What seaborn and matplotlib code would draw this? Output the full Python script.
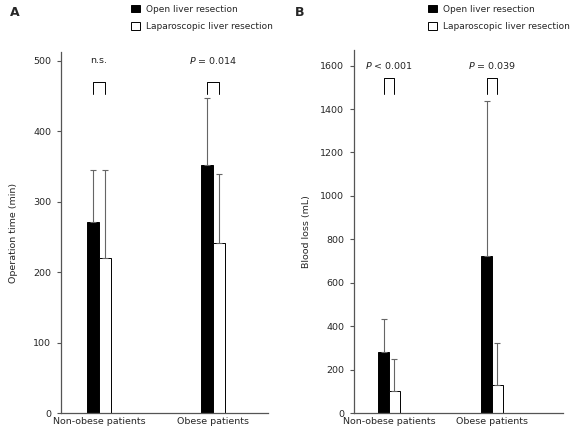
import pandas as pd
import matplotlib.pyplot as plt
import seaborn as sns
from matplotlib.patches import Patch

# Data
groups = ['Non-obese patients', 'Obese patients']
methods = ['Open liver resection', 'Laparoscopic liver resection']

optime_open = [271, 352]
optime_open_sd = [74, 95]
optime_lap = [220, 241]
optime_lap_sd = [125, 98]

blood_open = [281, 723]
blood_open_sd = [152, 715]
blood_lap = [100, 129]
blood_lap_sd = [149, 194]

p_optime = ['n.s.', r'$\it{P}$ = 0.014']
p_blood = [r'$\it{P}$ < 0.001', r'$\it{P}$ = 0.039']

sns.set_style('ticks')
plt.rcParams['font.family'] = ['DejaVu Sans']
plt.rcParams['mathtext.fontset'] = 'dejavusans'
FS = 6.8
spine_col = '#555555'


def make_df(open_vals, lap_vals):
    rows = []
    for g, v in zip(groups, open_vals):
        rows.append({'group': g, 'method': methods[0], 'value': v})
    for g, v in zip(groups, lap_vals):
        rows.append({'group': g, 'method': methods[1], 'value': v})
    return pd.DataFrame(rows)


def draw_panel(ax, open_vals, open_sd, lap_vals, lap_sd, pvals, ylim, yticks,
               xlim, bracket, ptext_y, ylabel, labelpad):
    df = make_df(open_vals, lap_vals)
    sns.barplot(data=df, x='group', y='value', hue='method', hue_order=methods,
                palette=['black', 'white'], edgecolor='black', linewidth=0.7,
                width=0.21, errorbar=None, legend=False, ax=ax)
    # upward-only error bars
    for cont, sds in zip(ax.containers, [open_sd, lap_sd]):
        xs = [b.get_x() + b.get_width() / 2 for b in cont]
        ys = [b.get_height() for b in cont]
        ax.errorbar(xs, ys, yerr=[[0] * len(sds), sds], fmt='none',
                    ecolor='#666666', elinewidth=0.8, capsize=2,
                    capthick=0.8, zorder=1)
    # brackets + p-values
    for i, txt in enumerate(pvals):
        x0 = ax.containers[0][i].get_x() + ax.containers[0][i].get_width() / 2
        x1 = ax.containers[1][i].get_x() + ax.containers[1][i].get_width() / 2
        lo, hi = bracket
        ax.plot([x0, x0, x1, x1], [lo, hi, hi, lo], color='black', lw=0.7)
        ax.text(i, ptext_y, txt, ha='center', va='center', fontsize=FS,
                color='#222222')
    ax.set_ylim(*ylim)
    ax.set_xlim(*xlim)
    ax.set_yticks(yticks)
    ax.set_xlabel('')
    ax.set_ylabel(ylabel, fontsize=FS, labelpad=labelpad)
    sns.despine(ax=ax)
    for s in ['left', 'bottom']:
        ax.spines[s].set_color(spine_col)
        ax.spines[s].set_linewidth(0.9)
    ax.tick_params(axis='y', labelsize=FS, length=3, width=0.8,
                   color=spine_col, pad=4)
    ax.tick_params(axis='x', labelsize=FS, length=0, pad=3)


fig = plt.figure(figsize=(5.78, 4.38), dpi=100)
axA = fig.add_axes([0.1055, 0.057, 0.358, 0.824])
axB = fig.add_axes([0.6125, 0.057, 0.3616, 0.829])

draw_panel(axA, optime_open, optime_open_sd, optime_lap, optime_lap_sd,
           p_optime, (0, 512), range(0, 501, 100), (-0.334, 1.483),
           (453, 470), 500, 'Operation time (min)', 11)
draw_panel(axB, blood_open, blood_open_sd, blood_lap, blood_lap_sd,
           p_blood, (0, 1672), range(0, 1601, 200), (-0.339, 1.69),
           (1470, 1544), 1600, 'Blood loss (mL)', 7)

handles = [Patch(facecolor='black', edgecolor='black', linewidth=0.7),
           Patch(facecolor='white', edgecolor='black', linewidth=0.7)]
for xa in [0.213, 0.727]:
    fig.legend(handles, methods, loc='upper left', bbox_to_anchor=(xa, 1.008),
               frameon=False, fontsize=6.5, handlelength=0.95, handleheight=0.95,
               handletextpad=0.7, labelspacing=0.95)

fig.text(0.017, 0.972, 'A', fontsize=9, fontweight='bold', va='center')
fig.text(0.51, 0.972, 'B', fontsize=9, fontweight='bold', va='center')

fig.savefig('out.png', dpi=100)
